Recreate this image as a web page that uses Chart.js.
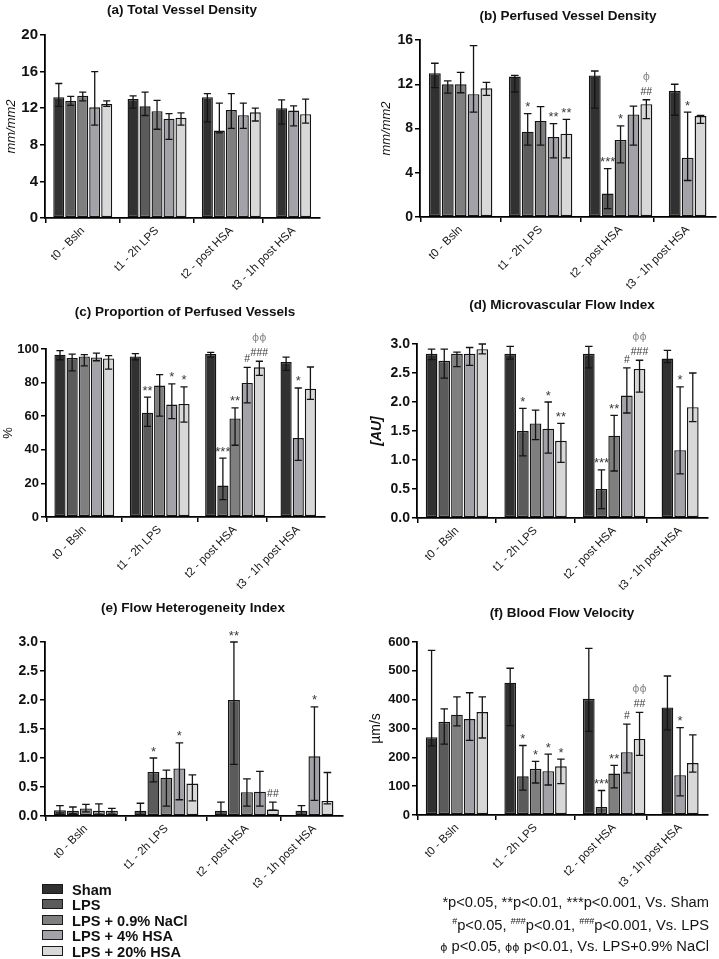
<!DOCTYPE html>
<html><head><meta charset="utf-8">
<script src="https://cdn.jsdelivr.net/npm/chart.js@4.4.1/dist/chart.umd.min.js"></script>
<style>
body{margin:0;background:#fff;}
#wrap{position:relative;width:719px;height:959px;overflow:hidden;font-family:"Liberation Sans",Arial,sans-serif;color:#111;}
canvas{position:absolute;}
.legItem{position:absolute;left:42px;height:16px;font-weight:bold;font-size:14.6px;line-height:14.6px;white-space:nowrap;}
.legBox{position:absolute;left:0;width:19px;height:8px;border:1px solid #1a1a1a;}
.legText{position:absolute;left:30px;top:0;}
.note{position:absolute;right:10px;font-size:14.7px;line-height:14.7px;white-space:nowrap;text-align:right;color:#151515;}
.note sup{font-size:9px;vertical-align:6px;line-height:0;}
.phi{font-family:"DejaVu Sans",sans-serif;font-size:11px;}
</style></head>
<body><div id="wrap"></div>
<script>
// ---------------- DATA ----------------
const categories = ['t0 - Bsln', 't1 - 2h LPS', 't2 - post HSA', 't3 - 1h post HSA'];
const groups = ['Sham', 'LPS', 'LPS + 0.9% NaCl', 'LPS + 4% HSA', 'LPS + 20% HSA'];

// (a) Total Vessel Density  [groups x categories]
const tvdValue = [[13.2, 13.0, 13.2, 12.0], [12.8, 12.2, 9.56, null], [13.35, 11.67, 11.8, null], [12.1, 10.85, 11.24, 11.75], [12.45, 10.95, 11.56, 11.35]];
const tvdLow   = [[12.2, 12.0, 10.5, 10.25], [12.3, 11.2, 9.3, null], [12.8, 9.7, 9.8, null], [10.15, 8.6, 9.8, 10.07], [12.2, 10.15, 10.6, 10.36]];
const tvdHigh  = [[14.7, 13.35, 13.6, 12.9], [13.3, 13.75, 12.55, null], [13.75, 12.85, 13.6, null], [16.0, 11.4, 12.55, 12.25], [12.8, 11.5, 12.0, 13.0]];
const tvdSig   = [['', '', '', ''], ['', '', '', ''], ['', '', '', ''], ['', '', '', ''], ['', '', '', '']];
const tvdPhi   = [['', '', '', ''], ['', '', '', ''], ['', '', '', ''], ['', '', '', ''], ['', '', '', '']];

// (b) Perfused Vessel Density
const pvdValue = [[13.0, 12.7, 12.8, 11.4], [12.0, 7.71, 2.12, null], [12.0, 8.68, 6.97, null], [11.1, 7.23, 9.27, 5.35], [11.63, 7.53, 10.2, 9.12]];
const pvdLow   = [[11.7, 11.3, 9.85, 9.2], [11.2, 6.5, 0.76, null], [11.23, 6.5, 4.9, null], [9.48, 5.35, 6.5, 3.3], [11.0, 5.35, 8.9, 8.46]];
const pvdHigh  = [[13.9, 12.8, 13.2, 12.0], [12.3, 9.35, 4.38, null], [13.08, 9.98, 8.24, null], [15.5, 8.44, 10.03, 9.48], [12.17, 8.83, 10.6, 9.18]];
const pvdSig   = [['', '', '', ''], ['', '*', '***', ''], ['', '', '*', ''], ['', '**', '', '*'], ['', '**', '##', '']];
const pvdPhi   = [['', '', '', ''], ['', '', '', ''], ['', '', '', ''], ['', '', '', ''], ['', '', 'ϕ', '']];

// (c) Proportion of Perfused Vessels (%)
const ppvValue = [[96.6, 95.6, 97.0, 92.3], [94.6, 62.1, 18.7, null], [95.6, 78.2, 58.7, null], [95.0, 66.9, 79.8, 47.0], [94.4, 67.3, 89.1, 76.4]];
const ppvLow   = [[93.6, 93.5, 95.2, 87.3], [87.0, 54.0, 10.3, null], [90.0, 60.0, 42.7, null], [93.0, 58.5, 67.9, 33.7], [88.0, 56.5, 84.3, 70.0]];
const ppvHigh  = [[99.0, 97.2, 98.0, 95.2], [97.0, 71.4, 35.0, null], [96.6, 84.7, 64.9, null], [97.6, 79.2, 89.1, 76.8], [96.0, 77.4, 92.7, 89.3]];
const ppvSig   = [['', '', '', ''], ['', '**', '***', ''], ['', '', '**', ''], ['', '*', '#', '*'], ['', '*', '###', '']];
const ppvPhi   = [['', '', '', ''], ['', '', '', ''], ['', '', '', ''], ['', '', '', ''], ['', '', 'ϕϕ', '']];

// (d) Microvascular Flow Index [AU]
const mfiValue = [[2.83, 2.83, 2.83, 2.75], [2.71, 1.50, 0.50, null], [2.83, 1.63, 1.42, null], [2.83, 1.54, 2.11, 1.17], [2.91, 1.33, 2.57, 1.91]];
const mfiLow   = [[2.73, 2.74, 2.59, 2.68], [2.41, 1.07, 0.16, null], [2.61, 1.35, 0.81, null], [2.63, 1.12, 1.81, 0.76], [2.83, 0.96, 2.17, 1.66]];
const mfiHigh  = [[2.91, 2.96, 2.96, 2.89], [2.91, 1.89, 0.83, null], [2.86, 1.86, 1.77, null], [2.94, 2.00, 2.59, 2.26], [3.00, 1.63, 2.72, 2.50]];
const mfiSig   = [['', '', '', ''], ['', '*', '***', ''], ['', '', '**', ''], ['', '*', '#', '*'], ['', '**', '###', '']];
const mfiPhi   = [['', '', '', ''], ['', '', '', ''], ['', '', '', ''], ['', '', '', ''], ['', '', 'ϕϕ', '']];

// (e) Flow Heterogeneity Index
const fhiValue = [[0.10, 0.09, 0.09, 0.09], [0.09, 0.76, 2.00, null], [0.13, 0.66, 0.41, null], [0.09, 0.82, 0.42, 1.03], [0.09, 0.56, 0.11, 0.26]];
const fhiLow   = [[0.03, 0.02, 0.02, 0.02], [0.04, 0.59, 0.89, null], [0.07, 0.17, 0.17, null], [0.03, 0.28, 0.17, 0.27], [0.05, 0.26, 0.10, 0.21]];
const fhiHigh  = [[0.18, 0.22, 0.24, 0.18], [0.155, 1.00, 3.00, null], [0.20, 0.79, 0.64, null], [0.21, 1.26, 0.77, 1.88], [0.13, 0.71, 0.24, 0.75]];
const fhiSig   = [['', '', '', ''], ['', '*', '**', ''], ['', '', '', ''], ['', '*', '', '*'], ['', '', '##', '']];
const fhiPhi   = [['', '', '', ''], ['', '', '', ''], ['', '', '', ''], ['', '', '', ''], ['', '', '', '']];

// (f) Blood Flow Velocity (µm/s)
const bfvValue = [[270, 459, 403, 373], [323, 134, 28, null], [348, 160, 144, null], [333, 152, 218, 138], [357, 169, 264, 180]];
const bfvLow   = [[240, 310, 290, 295], [246, 86, 5, null], [309, 111, 94, null], [259, 104, 146, 66], [267, 109, 207, 149]];
const bfvHigh  = [[571, 509, 578, 482], [368, 241, 85, null], [410, 186, 172, null], [424, 211, 315, 303], [410, 194, 356, 278]];
const bfvSig   = [['', '', '', ''], ['', '*', '***', ''], ['', '*', '**', ''], ['', '*', '#', '*'], ['', '*', '##', '']];
const bfvPhi   = [['', '', '', ''], ['', '', '', ''], ['', '', '', ''], ['', '', '', ''], ['', '', 'ϕϕ', '']];

// ---------------- STYLE / LAYOUT ----------------
const groupColors = ['#313131', '#5b5b5b', '#7f7f7f', '#a2a2a8', '#d8d8d8'];
const FONT = '"Liberation Sans", Arial, sans-serif';
const GAP = 1.2, PAD_L = 0.65, PAD_R = 0.7;

const panels = [
  {title: '(a) Total Vessel Density', tx: 182, ty: 10, col: 0, row: 0, left: 45, right: 320, top: 35, bottom: 218, ymax: 20, step: 4, dec: 0, tickSize: 15,
   ytitle: 'mm/mm2', yfont: {size: 13, style: 'italic'}, padLeft: 0,
   values: tvdValue, low: tvdLow, high: tvdHigh, sig: tvdSig, phi: tvdPhi},
  {title: '(b) Perfused Vessel Density', tx: 568, ty: 16, col: 1, row: 0, left: 420, right: 716, top: 40, bottom: 217, ymax: 16, step: 4, dec: 0, tickSize: 14,
   ytitle: 'mm/mm2', yfont: {size: 13, style: 'italic'}, padLeft: 15,
   values: pvdValue, low: pvdLow, high: pvdHigh, sig: pvdSig, phi: pvdPhi},
  {title: '(c) Proportion of Perfused Vessels', tx: 185, ty: 312, col: 0, row: 1, left: 46, right: 325, top: 349, bottom: 517, ymax: 100, step: 20, dec: 0, tickSize: 13,
   ytitle: '%', yfont: {size: 13}, padLeft: 0, ytPad: 1,
   values: ppvValue, low: ppvLow, high: ppvHigh, sig: ppvSig, phi: ppvPhi},
  {title: '(d) Microvascular Flow Index', tx: 562, ty: 305, col: 1, row: 1, left: 417, right: 708, top: 344, bottom: 518, ymax: 3, step: 0.5, dec: 1, tickSize: 14,
   ytitle: '[AU]', yfont: {size: 14, style: 'italic', weight: 'bold'}, padLeft: 5,
   values: mfiValue, low: mfiLow, high: mfiHigh, sig: mfiSig, phi: mfiPhi},
  {title: '(e) Flow Heterogeneity Index', tx: 193, ty: 608, col: 0, row: 2, left: 45, right: 343, top: 642, bottom: 816, ymax: 3, step: 0.5, dec: 1, tickSize: 14,
   ytitle: '', yfont: {size: 13}, padLeft: 0,
   values: fhiValue, low: fhiLow, high: fhiHigh, sig: fhiSig, phi: fhiPhi},
  {title: '(f) Blood Flow Velocity', tx: 562, ty: 613, col: 1, row: 2, left: 417, right: 708, top: 642, bottom: 815, ymax: 600, step: 100, dec: 0, tickSize: 13,
   ytitle: 'µm/s', yfont: {size: 14}, padLeft: 4,
   values: bfvValue, low: bfvLow, high: bfvHigh, sig: bfvSig, phi: bfvPhi}
];
const colX = [0, 360], colW = [360, 359];
const rowY = [0, 295, 590], rowH = [295, 295, 310];

const decor = {
  id: 'decor',
  afterDatasetsDraw(chart, args, opts) {
    const ctx = chart.ctx, ys = chart.scales.y;
    chart.data.datasets.forEach((ds, d) => {
      const meta = chart.getDatasetMeta(d);
      meta.data.forEach((el, j) => {
        const r = ds.data[j];
        const x = el.x, w = el.width;
        const yh = ys.getPixelForValue(r.hi), yl = ys.getPixelForValue(r.lo);
        const cw = w * 0.32;
        ctx.save();
        ctx.strokeStyle = '#141414'; ctx.lineWidth = 1.3;
        ctx.beginPath();
        ctx.moveTo(x, yh); ctx.lineTo(x, yl);
        ctx.moveTo(x - cw, yh); ctx.lineTo(x + cw, yh);
        ctx.moveTo(x - cw, yl); ctx.lineTo(x + cw, yl);
        ctx.stroke();
        ctx.textAlign = 'center'; ctx.textBaseline = 'alphabetic';
        let center = yh - 9;
        if (r.sig) {
          if (r.sig[0] === '*') {
            ctx.font = '13px ' + FONT; ctx.fillStyle = '#3a3a3a';
            ctx.fillText(r.sig, x, yh - 2.5);
            center = yh - 10;
          } else {
            ctx.font = '10.5px ' + FONT; ctx.fillStyle = '#3a3a3a';
            ctx.fillText(r.sig, x, yh - 5);
            center = yh - 9;
          }
        }
        if (r.phi) {
          ctx.font = '11px "DejaVu Sans", sans-serif'; ctx.fillStyle = '#8a8a8a';
          ctx.textBaseline = 'middle';
          ctx.fillText(r.phi, x, center - 14);
        }
        ctx.restore();
      });
    });
  },
  afterDraw(chart, args, opts) {
    const ctx = chart.ctx;
    ctx.save();
    ctx.font = 'bold 13.5px ' + FONT; ctx.fillStyle = '#111';
    ctx.textAlign = 'center'; ctx.textBaseline = 'middle';
    ctx.fillText(opts.text, opts.x, opts.y);
    ctx.restore();
  }
};

const wrap = document.getElementById('wrap');

panels.forEach(p => {
  const cx = colX[p.col], cy = rowY[p.row], W = colW[p.col], H = rowH[p.row];
  const cv = document.createElement('canvas');
  cv.width = W; cv.height = H;
  cv.style.left = cx + 'px'; cv.style.top = cy + 'px';
  cv.style.width = W + 'px'; cv.style.height = H + 'px';
  wrap.appendChild(cv);

  // bar positions from the number of present groups per category
  const pos = p.values.map(() => []);
  const centers = [];
  let cursor = 0;
  categories.forEach((c, i) => {
    let k = 0;
    p.values.forEach((arr, d) => { if (arr[i] != null) { pos[d][i] = cursor + k + 0.5; k++; } });
    centers.push(cursor + k / 2);
    cursor += k + GAP;
  });
  const total = cursor - GAP;

  const datasets = groups.map((g, d) => ({
    label: g,
    backgroundColor: groupColors[d],
    borderColor: '#141414',
    borderWidth: 1.4,
    borderSkipped: false,
    grouped: false,
    barPercentage: 0.92,
    categoryPercentage: 1,
    data: categories.map((c, i) => p.values[d][i] == null ? null :
      {x: pos[d][i], y: p.values[d][i], lo: p.low[d][i], hi: p.high[d][i], sig: p.sig[d][i], phi: p.phi[d][i]}).filter(Boolean)
  }));

  const tickGrid = {display: true, drawOnChartArea: false, drawTicks: true, tickLength: 5, color: '#000', lineWidth: 1.5};
  new Chart(cv, {
    type: 'bar',
    data: {datasets},
    plugins: [decor],
    options: {
      responsive: false, animation: false, devicePixelRatio: 1,
      layout: {padding: {left: p.padLeft, right: W - (p.right - cx), top: p.top - cy, bottom: 0}},
      plugins: {
        legend: {display: false}, tooltip: {enabled: false}, title: {display: false},
        decor: {text: p.title, x: p.tx - cx, y: p.ty - cy}
      },
      scales: {
        x: {
          type: 'linear', offset: false, min: -PAD_L, max: total + PAD_R,
          afterBuildTicks: s => { s.ticks = centers.map(v => ({value: v})); },
          afterFit: s => { s.height = H - (p.bottom - cy); },
          ticks: {autoSkip: false, minRotation: 45, maxRotation: 45, padding: 1, color: '#151515',
                  font: {family: FONT, size: 11.5}, callback: (v, i) => categories[i]},
          grid: tickGrid,
          border: {display: true, color: '#000', width: 1.8}
        },
        y: {
          min: 0, max: p.ymax,
          afterFit: s => { s.width = p.left - cx - p.padLeft; },
          ticks: {stepSize: p.step, padding: 2, color: '#111', font: {family: FONT, size: p.tickSize, weight: 'bold'},
                  callback: v => Number(v).toFixed(p.dec)},
          grid: tickGrid,
          border: {display: true, color: '#000', width: 1.8},
          title: {display: !!p.ytitle, text: p.ytitle, color: '#111', padding: {top: p.ytPad != null ? p.ytPad : 4, bottom: 0},
                  font: Object.assign({family: FONT}, p.yfont)}
        }
      }
    }
  });
});

// legend
const legY = [889, 904, 920, 935, 951];
groups.forEach((g, d) => {
  const it = document.createElement('div');
  it.className = 'legItem';
  it.style.top = (legY[d] - 6.4) + 'px';
  const b = document.createElement('div'); b.className = 'legBox';
  b.style.background = groupColors[d]; b.style.top = '1.5px';
  const t = document.createElement('div'); t.className = 'legText'; t.textContent = g;
  it.appendChild(b); it.appendChild(t);
  wrap.appendChild(it);
});

// footnotes
const notes = [
  {top: 894.5, html: '*p&lt;0.05, **p&lt;0.01, ***p&lt;0.001, Vs. Sham'},
  {top: 917.5, html: '<sup>#</sup>p&lt;0.05, <sup>###</sup>p&lt;0.01, <sup>###</sup>p&lt;0.001, Vs. LPS'},
  {top: 938.5, html: '<span class="phi">ϕ</span> p&lt;0.05, <span class="phi">ϕϕ</span> p&lt;0.01, Vs. LPS+0.9% NaCl'}
];
notes.forEach(n => {
  const el = document.createElement('div');
  el.className = 'note'; el.style.top = n.top + 'px'; el.innerHTML = n.html;
  wrap.appendChild(el);
});
</script>
</body></html>
